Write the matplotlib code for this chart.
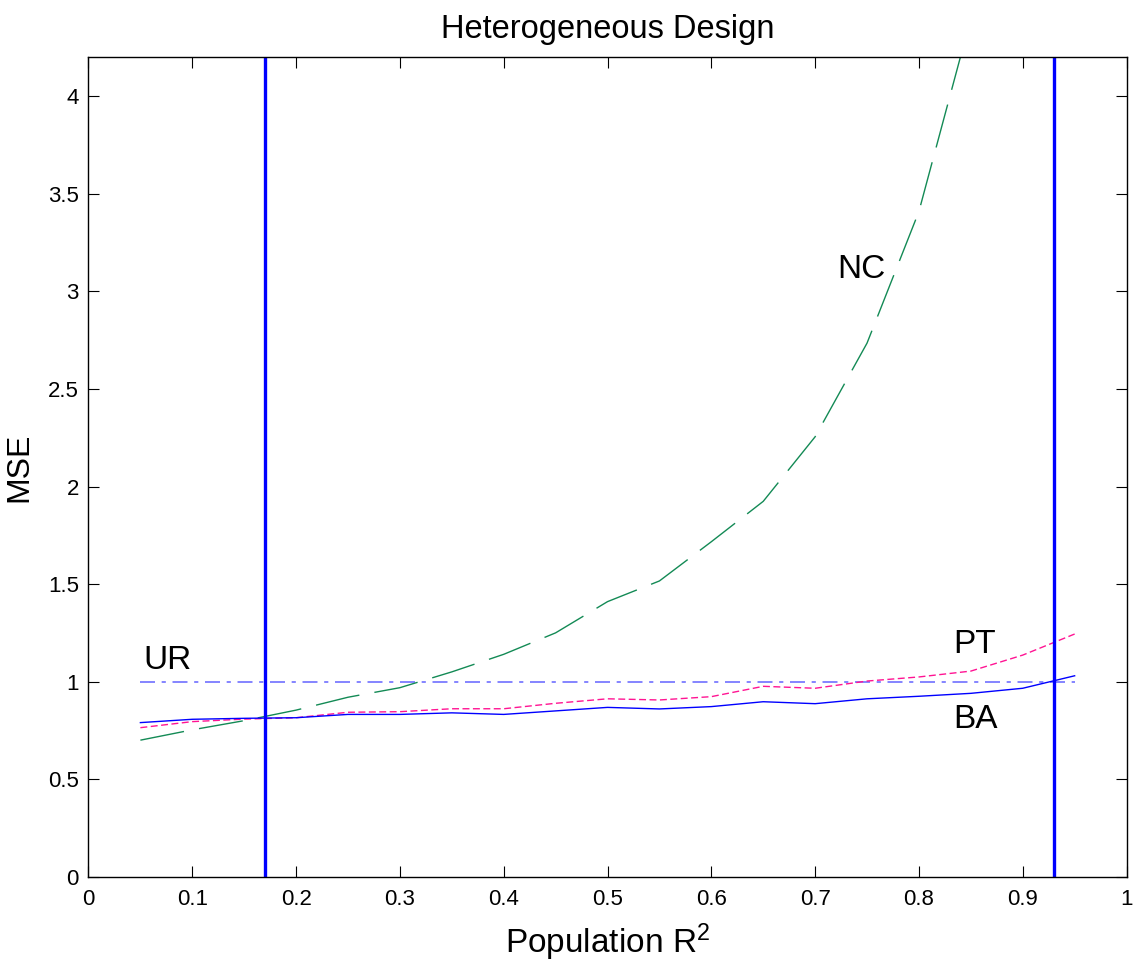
import matplotlib.pyplot as plt

plt.rcParams['font.family'] = ['Liberation Sans', 'DejaVu Sans']

# Poblacion R^2 y MSE de cada estimador
r2 = [0.05, 0.10, 0.15, 0.20, 0.25, 0.30, 0.35, 0.40, 0.45, 0.50,
      0.55, 0.60, 0.65, 0.70, 0.75, 0.80, 0.85, 0.90, 0.95]
mse_ba = [0.79, 0.807, 0.812, 0.815, 0.832, 0.832, 0.84, 0.832, 0.85, 0.868,
          0.86, 0.872, 0.897, 0.887, 0.912, 0.925, 0.94, 0.966, 1.03]
mse_pt = [0.764, 0.795, 0.808, 0.815, 0.843, 0.846, 0.861, 0.861, 0.889, 0.912,
          0.906, 0.923, 0.976, 0.966, 1.003, 1.024, 1.054, 1.136, 1.244]
mse_ur = [1.0] * len(r2)
r2_nc = r2[:17]
mse_nc = [0.70, 0.753, 0.80, 0.854, 0.92, 0.969, 1.05, 1.14, 1.25, 1.41,
          1.516, 1.717, 1.924, 2.255, 2.735, 3.41, 4.4]
cortes = [0.17, 0.93]

fig = plt.figure(figsize=(11.33, 9.66), dpi=100)
ax = fig.add_axes([0.0781, 0.0924, 0.9162, 0.8483])

ax.plot(r2, mse_ur, color='#7070ff', lw=1.2, dashes=[9, 4, 2.5, 4])
ax.plot(r2_nc, mse_nc, color='#138a55', lw=1.0, dashes=[32, 11])
ax.plot(r2, mse_pt, color='#ff1493', lw=1.0, dashes=[5, 2.5])
ax.plot(r2, mse_ba, color='#0000ff', lw=1.0)
for c in cortes:
    ax.axvline(c, color='#0000ff', lw=2.4)

ax.text(0.053, 1.063, 'UR', fontsize=24)
ax.text(0.721, 3.07, 'NC', fontsize=24)
ax.text(0.833, 1.148, 'PT', fontsize=24)
ax.text(0.833, 0.764, 'BA', fontsize=24)

ax.set_xlim(0, 1)
ax.set_ylim(0, 4.2)
ax.set_xticks([0, 0.1, 0.2, 0.3, 0.4, 0.5, 0.6, 0.7, 0.8, 0.9, 1])
ax.set_xticklabels(['0', '0.1', '0.2', '0.3', '0.4', '0.5', '0.6', '0.7', '0.8', '0.9', '1'])
ax.set_yticks([0, 0.5, 1, 1.5, 2, 2.5, 3, 3.5, 4])
ax.set_yticklabels(['0', '0.5', '1', '1.5', '2', '2.5', '3', '3.5', '4'])
ax.tick_params(direction='in', length=8, width=0.8, labelsize=16,
               top=True, right=True)
ax.tick_params(axis='x', pad=9)
ax.tick_params(axis='y', pad=7)
for s in ax.spines.values():
    s.set_linewidth(1.0)

ax.set_title('Heterogeneous Design', fontsize=23.5, pad=14)
ax.set_xlabel('Population $\\mathregular{R^2}$', fontsize=24, labelpad=8)
ax.set_ylabel('MSE', fontsize=23, labelpad=10)

plt.savefig('out.png')
